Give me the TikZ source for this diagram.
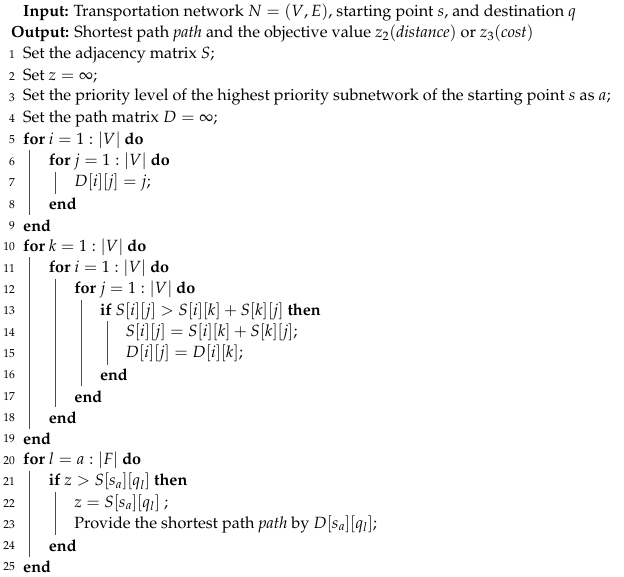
\documentclass[tikz,border=0pt]{standalone}
\usepackage[T1]{fontenc}
\usepackage{mathpazo}
\tikzset{txt/.style={anchor=west,inner sep=0pt,font=\fontsize{16.2}{18}\selectfont},
num/.style={anchor=east,inner sep=0pt,font=\fontsize{11.5}{13}\selectfont},
bar/.style={line width=0.8pt,black!70}}
\newcommand{\yy}[1]{-(12+21.35*#1)}
\newcommand{\algline}[4]{%
 \node[txt] (L#1) at (23+25.6*#2,{\yy{#1}}) {#4};
 \node[num] (N#1) at (15,{\yy{#1}}) {#3};}
\newcommand{\algbar}[3]{\draw[bar] (#1,{\yy{#2}+11}) -- (#1,{\yy{#3}-11});}
\begin{document}
\begin{tikzpicture}[x=1pt,y=1pt]
\useasboundingbox (0,0) rectangle (624,-576);
\node[txt] (In) at (23,{\yy{0}}) {\textbf{Input:} Transportation network $N=(V,E)$, starting point $s$, and destination $q$};
\node[txt] (Out) at (11,{\yy{1}}) {\textbf{Output:} Shortest path \textit{path} and the objective value $z_2(\mathit{distance})$ or $z_3(\mathit{cost})$};
\algline{2}{0}{1}{Set the adjacency matrix $S$;}
\algline{3}{0}{2}{Set $z=\infty$;}
\algline{4}{0}{3}{Set the priority level of the highest priority subnetwork of the starting point $s$ as $a$;}
\algline{5}{0}{4}{Set the path matrix $D=\infty$;}
\algline{6}{0}{5}{\textbf{for} $i=1:|V|$ \textbf{do}}
\algline{7}{1}{6}{\textbf{for} $j=1:|V|$ \textbf{do}}
\algline{8}{2}{7}{$D[i][j]=j$;}
\algline{9}{1}{8}{\textbf{end}}
\algline{10}{0}{9}{\textbf{end}}
\algline{11}{0}{10}{\textbf{for} $k=1:|V|$ \textbf{do}}
\algline{12}{1}{11}{\textbf{for} $i=1:|V|$ \textbf{do}}
\algline{13}{2}{12}{\textbf{for} $j=1:|V|$ \textbf{do}}
\algline{14}{3}{13}{\textbf{if} $S[i][j]>S[i][k]+S[k][j]$ \textbf{then}}
\algline{15}{4}{14}{$S[i][j]=S[i][k]+S[k][j]$;}
\algline{16}{4}{15}{$D[i][j]=D[i][k]$;}
\algline{17}{3}{16}{\textbf{end}}
\algline{18}{2}{17}{\textbf{end}}
\algline{19}{1}{18}{\textbf{end}}
\algline{20}{0}{19}{\textbf{end}}
\algline{21}{0}{20}{\textbf{for} $l=a:|F|$ \textbf{do}}
\algline{22}{1}{21}{\textbf{if} $z>S[s_a][q_l]$ \textbf{then}}
\algline{23}{2}{22}{$z=S[s_a][q_l]$ ;}
\algline{24}{2}{23}{Provide the shortest path \textit{path} by $D[s_a][q_l]$;}
\algline{25}{1}{24}{\textbf{end}}
\algline{26}{0}{25}{\textbf{end}}
\algbar{29}{7}{9}
\algbar{55}{8}{8}
\algbar{29}{12}{19}
\algbar{55}{13}{18}
\algbar{81}{14}{17}
\algbar{107}{15}{16}
\algbar{29}{22}{25}
\algbar{55}{23}{24}
\end{tikzpicture}
\end{document}
